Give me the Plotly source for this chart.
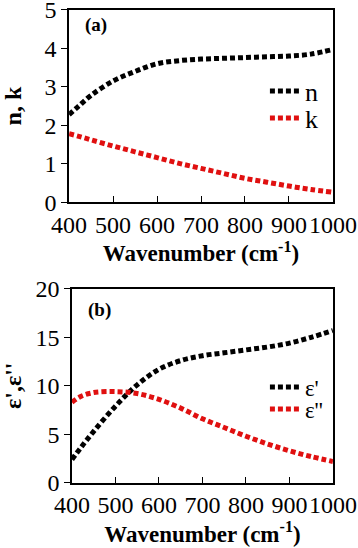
import plotly.graph_objects as go

wavenumber = [400, 420, 450, 500, 550, 600, 650, 700, 750, 800, 850, 900, 950, 1000]
n_vals = [2.28, 2.48, 2.78, 3.15, 3.40, 3.60, 3.68, 3.72, 3.74, 3.76, 3.78, 3.80, 3.85, 3.97]
k_vals = [1.78, 1.72, 1.62, 1.46, 1.31, 1.16, 1.01, 0.88, 0.75, 0.62, 0.52, 0.42, 0.33, 0.26]
eps1_vals = [2.4, 3.6, 5.3, 7.9, 10.1, 11.7, 12.6, 13.1, 13.4, 13.7, 14.0, 14.4, 15.0, 15.7]
eps2_vals = [8.3, 8.9, 9.3, 9.4, 9.2, 8.6, 7.7, 6.6, 5.7, 4.8, 4.0, 3.3, 2.7, 2.2]
x_ticks = [400, 500, 600, 700, 800, 900, 1000]

FONT = "Liberation Serif, Times New Roman, serif"
DASH = "5px,3px"
RED = "#e01010"

fig = go.Figure()
fig.add_trace(go.Scatter(x=wavenumber, y=n_vals, mode="lines", name="n",
                         line=dict(color="black", width=5, dash=DASH, shape="spline"),
                         xaxis="x", yaxis="y", legend="legend"))
fig.add_trace(go.Scatter(x=wavenumber, y=k_vals, mode="lines", name="k",
                         line=dict(color=RED, width=5, dash=DASH, shape="spline"),
                         xaxis="x", yaxis="y", legend="legend2"))
fig.add_trace(go.Scatter(x=wavenumber, y=eps1_vals, mode="lines", name="ε'",
                         line=dict(color="black", width=5, dash=DASH, shape="spline"),
                         xaxis="x2", yaxis="y2", legend="legend3"))
fig.add_trace(go.Scatter(x=wavenumber, y=eps2_vals, mode="lines", name="ε''",
                         line=dict(color=RED, width=5, dash=DASH, shape="spline"),
                         xaxis="x2", yaxis="y2", legend="legend4"))

axis_common = dict(showline=True, linecolor="black", linewidth=1.5, mirror=True,
                   showgrid=False, zeroline=False, tickangle=0, automargin=False,
                   tickfont=dict(family=FONT, size=24, color="black"),
                   ticklen=6, tickcolor="black", tickwidth=1.2)

def xtitle():
    return dict(text="Wavenumber (cm<sup>-1</sup>)",
                font=dict(family=FONT, size=23, color="black", weight="bold"), standoff=0)

def leg(y, size):
    return dict(x=0.74, y=y, xanchor="left", yanchor="middle", bgcolor="rgba(0,0,0,0)",
                font=dict(family=FONT, size=size, color="black"), itemwidth=30)

fig.update_layout(
    width=358, height=548,
    margin=dict(l=0, r=0, t=0, b=0),
    paper_bgcolor="white", plot_bgcolor="white",
    showlegend=True,
    xaxis=dict(domain=[0.193, 0.930], anchor="y", range=[400, 1000], ticks="inside",
               tickvals=x_ticks, title=xtitle(), **axis_common),
    yaxis=dict(domain=[0.631, 0.982], anchor="x", range=[0, 5], ticks="outside",
               tickvals=[0, 1, 2, 3, 4, 5],
               title=dict(text="n, k", font=dict(family=FONT, size=24, color="black", weight="bold"), standoff=26),
               **axis_common),
    xaxis2=dict(domain=[0.201, 0.930], anchor="y2", range=[400, 1000], ticks="inside",
                tickvals=x_ticks, title=xtitle(), **axis_common),
    yaxis2=dict(domain=[0.119, 0.473], anchor="x2", range=[0, 20], ticks="outside",
                tickvals=[0, 5, 10, 15, 20],
                title=dict(text="ε',ε''", font=dict(family=FONT, size=24, color="black", weight="bold"), standoff=14),
                **axis_common),
    legend=leg(1 - 91 / 548, 26),
    legend2=leg(1 - 118 / 548, 26),
    legend3=leg(1 - 387 / 548, 23),
    legend4=leg(1 - 409 / 548, 23),
    annotations=[
        dict(text="<b>(a)</b>", x=0.232, y=0.955, xref="paper", yref="paper",
             xanchor="left", yanchor="middle", showarrow=False,
             font=dict(family=FONT, size=19, color="black")),
        dict(text="<b>(b)</b>", x=0.24, y=0.435, xref="paper", yref="paper",
             xanchor="left", yanchor="middle", showarrow=False,
             font=dict(family=FONT, size=19, color="black")),
    ],
)

fig.write_html("out.html", config={"displayModeBar": False},
               post_script="document.body.style.margin='0';")
